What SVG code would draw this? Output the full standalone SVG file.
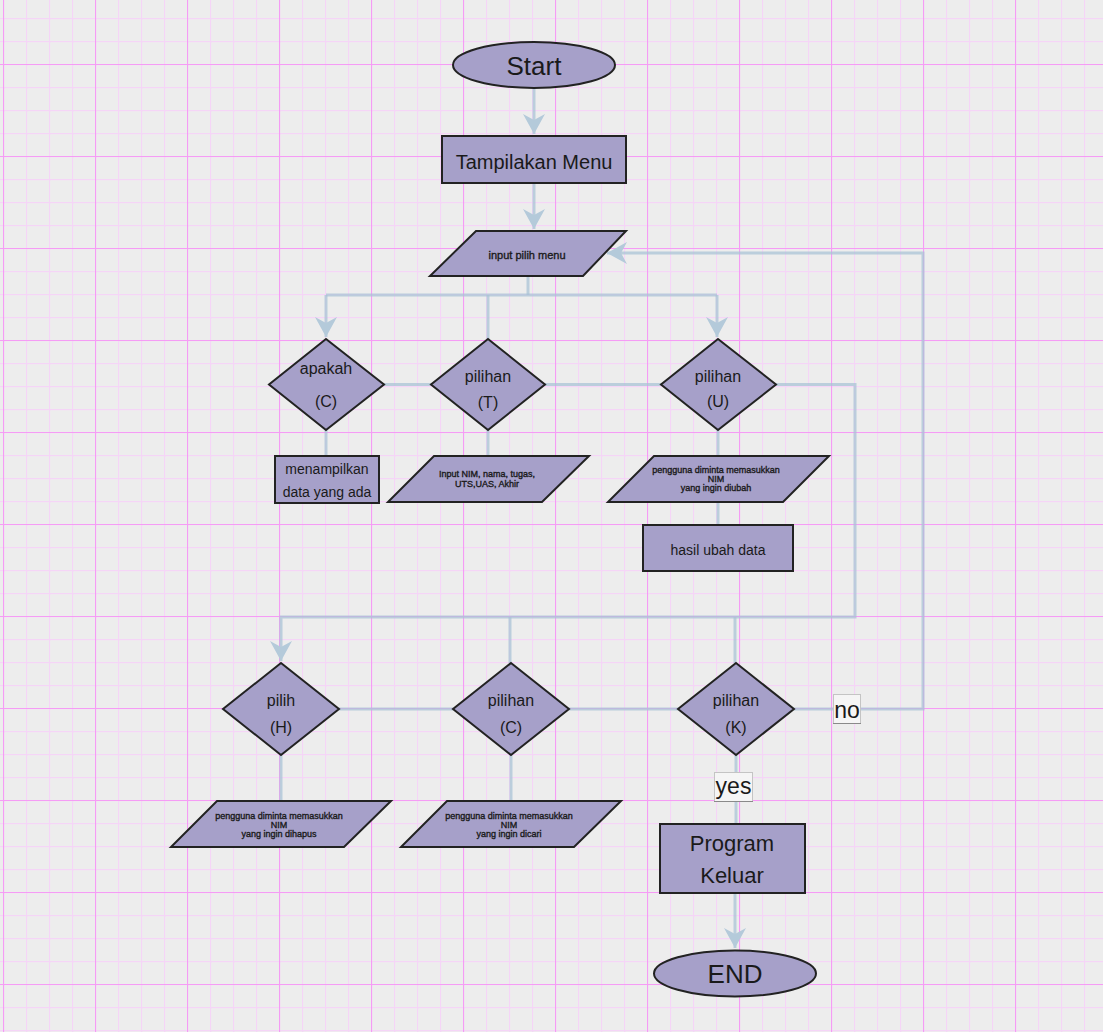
<svg xmlns="http://www.w3.org/2000/svg" width="1103" height="1032" viewBox="0 0 1103 1032">
<style>
.n{fill:#a6a0c9;stroke:#222;stroke-width:2}
.t{font-family:"Liberation Sans",Arial,sans-serif;fill:#1a1a1a;text-anchor:middle}
.s{stroke:#1a1a1a;stroke-width:0.35}
.c{fill:none;stroke:#a9c3d6;stroke-opacity:0.75;stroke-width:3}
.lb{fill:#f5f5f5;stroke:#c4c4c4;stroke-width:1}
</style>
<defs>
<pattern id="gmin" width="23" height="23" patternUnits="userSpaceOnUse" x="3" y="18">
<path d="M0.5 0V23M0 0.5H23" stroke="#f5d5f7" stroke-width="1.3" fill="none"/>
</pattern>
<pattern id="gmaj" width="92" height="92" patternUnits="userSpaceOnUse" x="3" y="64">
<path d="M0.5 0V92M0 0.5H92" stroke="#f59cf5" stroke-width="1.2" fill="none"/>
</pattern>
<marker id="ar" markerUnits="userSpaceOnUse" markerWidth="22" markerHeight="22" viewBox="0 0 20 22" refX="20" refY="11" orient="auto">
<path d="M0 0L20 11L0 22L6 11z" fill="#b4cada"/>
</marker>
</defs>
<rect width="1103" height="1032" fill="#ededed"/>
<rect width="1103" height="1032" fill="url(#gmin)"/>
<rect width="1103" height="1032" fill="url(#gmaj)"/>

<g id="connectors">
<path class="c" d="M534 88V134" marker-end="url(#ar)"/>
<path class="c" d="M534 183V229" marker-end="url(#ar)"/>
<path class="c" d="M528 276V295"/>
<path class="c" d="M326 295H717"/>
<path class="c" d="M326 295V337" marker-end="url(#ar)"/>
<path class="c" d="M488 295V339"/>
<path class="c" d="M717 295V337" marker-end="url(#ar)"/>
<path class="c" d="M384 384.5H431"/>
<path class="c" d="M545 384.5H661"/>
<path class="c" d="M776 384.5H855V617H281V661" marker-end="url(#ar)"/>
<path class="c" d="M510 617V663"/>
<path class="c" d="M735 617V663"/>
<path class="c" d="M326 430V456"/>
<path class="c" d="M488 430V456"/>
<path class="c" d="M718 430V456"/>
<path class="c" d="M718 502V525"/>
<path class="c" d="M339 709H453"/>
<path class="c" d="M569 709H678"/>
<path class="c" d="M794 709H923V253H607" marker-end="url(#ar)"/>
<path class="c" d="M281 755V801"/>
<path class="c" d="M511 755V801"/>
<path class="c" d="M736 755V824"/>
<path class="c" d="M735 893V948" marker-end="url(#ar)"/>
</g>

<g id="start">
<ellipse class="n" cx="534" cy="65" rx="81" ry="23"/>
<text class="t" x="534" y="75" font-size="26">Start</text>
</g>
<g id="menu">
<rect class="n" x="442" y="136" width="184" height="47"/>
<text class="t" x="534" y="169" font-size="20">Tampilakan Menu</text>
</g>
<g id="input-menu">
<polygon class="n" points="476,231 626,231 583,276 430,276"/>
<text class="t s" x="527" y="259" font-size="11">input pilih menu</text>
</g>
<g id="dec-c">
<polygon class="n" points="326,339 384,384.5 326,430 269,384.5"/>
<text class="t" x="326" y="374" font-size="16">apakah</text>
<text class="t" x="326" y="407" font-size="16">(C)</text>
</g>
<g id="dec-t">
<polygon class="n" points="488,339 545,384.5 488,430 431,384.5"/>
<text class="t" x="488" y="382" font-size="16">pilihan</text>
<text class="t" x="488" y="408" font-size="16">(T)</text>
</g>
<g id="dec-u">
<polygon class="n" points="718,339 776,384.5 718,430 661,384.5"/>
<text class="t" x="718" y="382" font-size="16">pilihan</text>
<text class="t" x="718" y="407" font-size="16">(U)</text>
</g>
<g id="tampil-data">
<rect class="n" x="275" y="456" width="104" height="47"/>
<text class="t" x="327" y="474" font-size="14">menampilkan</text>
<text class="t" x="327" y="497" font-size="14">data yang ada</text>
</g>
<g id="input-nilai">
<polygon class="n" points="434,456 589,456 542,502 388,502"/>
<text class="t s" x="487" y="477" font-size="9">Input NIM, nama, tugas,</text>
<text class="t s" x="487" y="486.5" font-size="9">UTS,UAS, Akhir</text>
</g>
<g id="input-ubah">
<polygon class="n" points="654,456 829,456 783,502 608,502"/>
<text class="t s" x="716" y="473" font-size="9">pengguna diminta memasukkan</text>
<text class="t s" x="716" y="482" font-size="9">NIM</text>
<text class="t s" x="716" y="491" font-size="9">yang ingin diubah</text>
</g>
<g id="hasil-ubah">
<rect class="n" x="643" y="525" width="150" height="46"/>
<text class="t" x="718" y="555" font-size="14">hasil ubah data</text>
</g>
<g id="dec-h">
<polygon class="n" points="281,663 339,709 281,755 223,709"/>
<text class="t" x="281" y="706" font-size="16">pilih</text>
<text class="t" x="281" y="733" font-size="16">(H)</text>
</g>
<g id="dec-cari">
<polygon class="n" points="511,663 569,709 511,755 453,709"/>
<text class="t" x="511" y="706" font-size="16">pilihan</text>
<text class="t" x="511" y="733" font-size="16">(C)</text>
</g>
<g id="dec-k">
<polygon class="n" points="736,663 794,709 736,755 678,709"/>
<text class="t" x="736" y="706" font-size="16">pilihan</text>
<text class="t" x="736" y="733" font-size="16">(K)</text>
</g>
<g id="input-hapus">
<polygon class="n" points="217,801 391,801 344,847 171,847"/>
<text class="t s" x="279" y="818.5" font-size="9">pengguna diminta memasukkan</text>
<text class="t s" x="279" y="827.5" font-size="9">NIM</text>
<text class="t s" x="279" y="836.5" font-size="9">yang ingin dihapus</text>
</g>
<g id="input-cari">
<polygon class="n" points="447,801 621,801 574,847 401,847"/>
<text class="t s" x="509" y="818.5" font-size="9">pengguna diminta memasukkan</text>
<text class="t s" x="509" y="827.5" font-size="9">NIM</text>
<text class="t s" x="509" y="836.5" font-size="9">yang ingin dicari</text>
</g>
<g id="label-no">
<rect class="lb" x="833.5" y="694.5" width="27" height="29"/>
<line x1="833" y1="723.5" x2="861" y2="723.5" stroke="#8a8a8a" stroke-width="1"/>
<text class="t" x="847" y="718" font-size="23">no</text>
</g>
<g id="label-yes">
<rect class="lb" x="714.5" y="772.5" width="38" height="29"/>
<line x1="714" y1="801.5" x2="753" y2="801.5" stroke="#8a8a8a" stroke-width="1"/>
<text class="t" x="733.5" y="794" font-size="23">yes</text>
</g>
<g id="keluar">
<rect class="n" x="660" y="824" width="145" height="69"/>
<text class="t" x="732" y="851" font-size="22">Program</text>
<text class="t" x="732" y="883" font-size="22">Keluar</text>
</g>
<g id="end">
<ellipse class="n" cx="735" cy="973.5" rx="81" ry="23"/>
<text class="t" x="735" y="983" font-size="26">END</text>
</g>
</svg>
